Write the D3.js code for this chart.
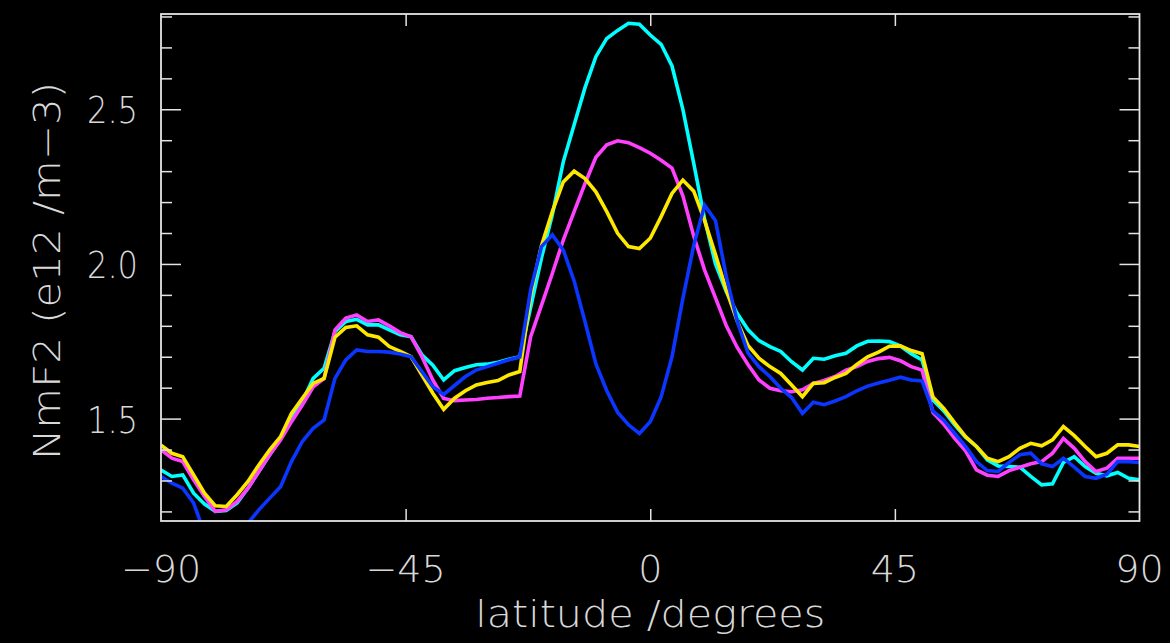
<!DOCTYPE html>
<html><head><meta charset="utf-8">
<script src="https://cdn.jsdelivr.net/npm/d3@7"></script>
<style>html,body{margin:0;padding:0;background:#000;}svg{display:block;}</style>
</head><body><svg id="c" width="1170" height="643"></svg>
<script>
const latitudes = [-90,-88,-86,-84,-82,-80,-78,-76,-74,-72,-70,-68,-66,-64,-62,-60,-58,-56,-54,-52,-50,-48,-46,-44,-42,-40,-38,-36,-34,-32,-30,-28,-26,-24,-22,-20,-18,-16,-14,-12,-10,-8,-6,-4,-2,0,2,4,6,8,10,12,14,16,18,20,22,24,26,28,30,32,34,36,38,40,42,44,46,48,50,52,54,56,58,60,62,64,66,68,70,72,74,76,78,80,82,84,86,88,90];
const cyanSeries = [
1.334,1.313,1.318,1.259,1.224,1.200,1.203,1.227,1.275,1.329,
1.383,1.436,1.501,1.555,1.630,1.663,1.781,1.814,1.821,1.803,
1.803,1.787,1.771,1.765,1.706,1.673,1.625,1.655,1.665,1.674,
1.676,1.682,1.692,1.700,1.860,2.020,2.160,2.330,2.450,2.570,
2.670,2.729,2.755,2.778,2.775,2.740,2.710,2.640,2.500,2.325,
2.145,2.000,1.910,1.840,1.787,1.752,1.733,1.717,1.684,1.657,
1.695,1.692,1.703,1.711,1.735,1.750,1.751,1.749,1.735,1.710,
1.690,1.560,1.525,1.480,1.440,1.410,1.367,1.347,1.345,1.343,
1.313,1.286,1.289,1.358,1.377,1.345,1.323,1.315,1.326,1.307,
1.302];
const magentaSeries = [
1.399,1.372,1.361,1.302,1.248,1.200,1.205,1.232,1.275,1.329,
1.383,1.431,1.490,1.544,1.603,1.630,1.787,1.825,1.835,1.814,
1.819,1.800,1.778,1.765,1.700,1.625,1.565,1.558,1.560,1.562,
1.566,1.568,1.571,1.573,1.765,1.867,1.970,2.077,2.169,2.260,
2.345,2.385,2.398,2.392,2.376,2.358,2.335,2.310,2.220,2.090,
1.980,1.890,1.800,1.730,1.674,1.625,1.598,1.590,1.587,1.593,
1.614,1.623,1.636,1.657,1.668,1.685,1.694,1.698,1.687,1.668,
1.657,1.520,1.482,1.436,1.396,1.334,1.317,1.313,1.332,1.343,
1.354,1.361,1.388,1.436,1.404,1.361,1.329,1.340,1.372,1.372,
1.372];
const yellowSeries = [
1.414,1.388,1.377,1.318,1.259,1.218,1.216,1.254,1.297,1.350,
1.399,1.442,1.517,1.566,1.614,1.630,1.763,1.795,1.800,1.771,
1.763,1.733,1.717,1.700,1.641,1.582,1.530,1.566,1.590,1.609,
1.617,1.623,1.641,1.652,1.900,2.060,2.170,2.265,2.300,2.276,
2.233,2.169,2.099,2.056,2.050,2.083,2.153,2.228,2.271,2.235,
2.140,2.030,1.915,1.815,1.736,1.695,1.668,1.646,1.609,1.571,
1.614,1.616,1.633,1.646,1.675,1.700,1.715,1.734,1.735,1.720,
1.710,1.570,1.533,1.486,1.442,1.410,1.372,1.361,1.377,1.404,
1.420,1.412,1.431,1.474,1.445,1.410,1.377,1.388,1.415,1.415,
1.410];
const blueSeries = [
1.313,1.291,1.275,1.227,1.130,1.070,1.070,1.120,1.162,1.205,
1.243,1.280,1.361,1.426,1.469,1.496,1.630,1.690,1.722,1.717,
1.717,1.715,1.709,1.700,1.652,1.603,1.578,1.607,1.636,1.657,
1.668,1.679,1.690,1.699,1.916,2.056,2.094,2.045,1.945,1.813,
1.677,1.590,1.520,1.480,1.452,1.490,1.570,1.700,1.888,2.060,
2.190,2.140,1.958,1.815,1.712,1.668,1.636,1.598,1.568,1.517,
1.553,1.545,1.557,1.571,1.590,1.605,1.615,1.624,1.634,1.625,
1.622,1.525,1.495,1.452,1.410,1.361,1.332,1.329,1.358,1.383,
1.388,1.354,1.345,1.372,1.343,1.313,1.307,1.320,1.361,1.361,
1.358];
const xTickValues = [-90,-45,0,45,90];
const xTickLabels = ["\u221290","\u221245","0","45","90"];
const xInnerTicks = [-45,0,45];
const yMajorTicks = [1.5,2.0,2.5];
const yTickLabels = ["1.5","2.0","2.5"];
const yMinorTicks = [1.2,1.3,1.4,1.6,1.7,1.8,1.9,2.1,2.2,2.3,2.4,2.6,2.7,2.8];
const xTitle = "latitude /degrees";
const yTitle = "NmF2 (e12 /m\u22123)";

const series = [
  {name:"cyan", values:cyanSeries, color:"#00ffff"},
  {name:"magenta", values:magentaSeries, color:"#ff40ff"},
  {name:"yellow", values:yellowSeries, color:"#ffe800"},
  {name:"blue", values:blueSeries, color:"#0a36ff"}
];

const L = 161, R = 1139.5, T = 14, B = 521;
const x = d3.scaleLinear().domain([-90,90]).range([L,R]);
const y = d3.scaleLinear().domain([1.169,2.808]).range([B,T]);
const svg = d3.select("#c");
svg.append("rect").attr("width",1170).attr("height",643).attr("fill","#000");

const axisColor = "#e4e4e4";
const textColor = "#d8d8d8";
const font = "'DejaVu Sans', sans-serif";

svg.append("clipPath").attr("id","plotclip").append("rect")
  .attr("x",L).attr("y",T).attr("width",R-L).attr("height",B-T);

const line = d3.line().x((d,i)=>x(latitudes[i])).y(d=>y(d));
const g = svg.append("g").attr("clip-path","url(#plotclip)");
series.forEach(s=>{
  g.append("path").datum(s.values).attr("d",line)
    .attr("fill","none").attr("stroke",s.color).attr("stroke-width",3.6)
    .attr("stroke-linejoin","miter").attr("stroke-linecap","butt");
});

function styleAxis(sel){
  sel.select(".domain").remove();
  sel.selectAll("line").attr("stroke",axisColor).attr("stroke-width",1.5);
  sel.selectAll("text").remove();
}
svg.append("g").attr("transform",`translate(${L},0)`)
  .call(d3.axisRight(y).tickValues(yMinorTicks).tickSize(11).tickFormat("")).call(styleAxis);
svg.append("g").attr("transform",`translate(${L},0)`)
  .call(d3.axisRight(y).tickValues(yMajorTicks).tickSize(20).tickFormat("")).call(styleAxis);
svg.append("g").attr("transform",`translate(${R},0)`)
  .call(d3.axisLeft(y).tickValues(yMinorTicks).tickSize(11).tickFormat("")).call(styleAxis);
svg.append("g").attr("transform",`translate(${R},0)`)
  .call(d3.axisLeft(y).tickValues(yMajorTicks).tickSize(20).tickFormat("")).call(styleAxis);
svg.append("g").attr("transform",`translate(0,${B})`)
  .call(d3.axisTop(x).tickValues(xInnerTicks).tickSize(12).tickFormat("")).call(styleAxis);
svg.append("g").attr("transform",`translate(0,${T})`)
  .call(d3.axisBottom(x).tickValues(xInnerTicks).tickSize(12).tickFormat("")).call(styleAxis);

svg.append("rect").attr("x",L).attr("y",T).attr("width",R-L).attr("height",B-T)
  .attr("fill","none").attr("stroke",axisColor).attr("stroke-width",1.8);

svg.append("g").selectAll("text").data(xTickValues).join("text")
  .attr("x",d=>x(d)).attr("y",582).attr("text-anchor","middle")
  .attr("font-family",font).attr("font-weight",200).attr("font-size",38)
  .attr("fill",textColor).text((d,i)=>xTickLabels[i]);
svg.append("g").selectAll("text").data(yMajorTicks).join("text")
  .attr("x",138).attr("y",d=>y(d)+14).attr("text-anchor","end")
  .attr("font-family",font).attr("font-weight",200).attr("font-size",38)
  .attr("textLength",51).attr("lengthAdjust","spacingAndGlyphs")
  .attr("fill",textColor).text((d,i)=>yTickLabels[i]);

svg.append("text").attr("x",(L+R)/2).attr("y",627).attr("text-anchor","middle")
  .attr("font-family",font).attr("font-weight",200).attr("font-size",38)
  .attr("textLength",350).attr("lengthAdjust","spacingAndGlyphs")
  .attr("fill",textColor).text(xTitle);
svg.append("text").attr("transform","translate(60,271) rotate(-90)").attr("text-anchor","middle")
  .attr("font-family",font).attr("font-weight",200).attr("font-size",38)
  .attr("textLength",378).attr("lengthAdjust","spacingAndGlyphs")
  .attr("fill",textColor).text(yTitle);
</script></body></html>
